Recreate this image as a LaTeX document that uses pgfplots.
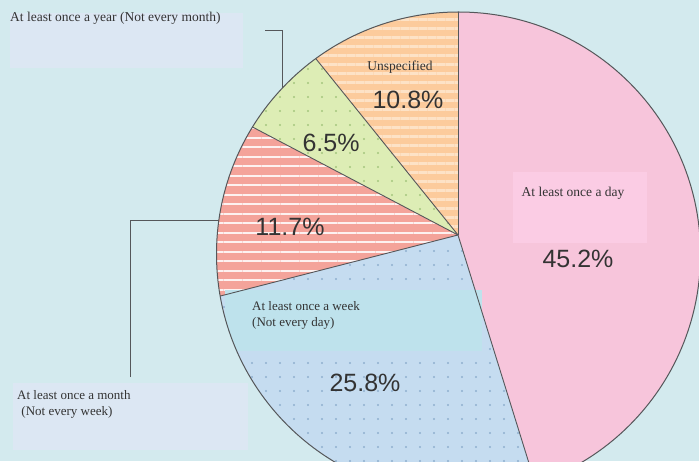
\documentclass[border=0pt]{standalone}
\usepackage{pgfplots}
\usepackage{pgfplotstable}
\pgfplotsset{compat=1.18}
\usetikzlibrary{patterns.meta}
\usepackage{fontspec}
\setmainfont{Liberation Serif}
\newfontfamily\pctfont{Liberation Sans}
\definecolor{bg}{HTML}{D3EAEE}
\definecolor{boxc}{HTML}{DCE7F3}
\definecolor{cday}{HTML}{F7C5DB}
\definecolor{cdaybox}{HTML}{FBCCE4}
\definecolor{cweek}{HTML}{C5DCF0}
\definecolor{cweekbox}{HTML}{BEE2EC}
\definecolor{cweekdot}{HTML}{8FAFCF}
\definecolor{cmonth}{HTML}{F4A39A}
\definecolor{cyear}{HTML}{DDEDB5}
\definecolor{cyeardot}{HTML}{A5C67E}
\definecolor{cuns}{HTML}{FCCB9C}
\definecolor{cunsline}{HTML}{FDE2C6}
\definecolor{edge}{HTML}{55575A}
\definecolor{txt}{HTML}{333333}

\pgfplotstableread{
label pct
day 45.2
week 25.8
month 11.7
year 6.5
unspecified 10.8
}\piedata

\tikzset{pct/.style={txt, font=\pctfont\fontsize{25}{28}\selectfont, inner sep=0pt}}

\begin{document}%
\begin{tikzpicture}
\pgfplotstablegetelem{0}{pct}\of\piedata\let\pA\pgfplotsretval
\pgfplotstablegetelem{1}{pct}\of\piedata\let\pB\pgfplotsretval
\pgfplotstablegetelem{2}{pct}\of\piedata\let\pC\pgfplotsretval
\pgfplotstablegetelem{3}{pct}\of\piedata\let\pD\pgfplotsretval
\pgfplotstablegetelem{4}{pct}\of\piedata\let\pE\pgfplotsretval
\pgfmathsetmacro\aA{90}
\pgfmathsetmacro\aB{\aA-3.6*\pA}
\pgfmathsetmacro\aC{\aB-3.6*\pB}
\pgfmathsetmacro\aD{\aC-3.6*\pC}
\pgfmathsetmacro\aE{\aD-3.6*\pD}
\pgfmathsetmacro\aF{\aE-3.6*\pE}
\begin{axis}[
  width=699pt, height=461pt, scale only axis,
  xmin=0, xmax=699, ymin=0, ymax=461,
  hide axis, clip=true,
]
\fill[bg] (axis cs:0,0) rectangle (axis cs:699,461);
% label boxes
\fill[boxc] (axis cs:10,393) rectangle (axis cs:243,448);
\fill[boxc] (axis cs:13,11) rectangle (axis cs:248,78);
% leader lines
\draw[edge, line width=0.8pt] (axis cs:265,431) -- (axis cs:282,431) -- (axis cs:282,361);
\draw[edge, line width=0.8pt] (axis cs:130,84) -- (axis cs:130,241) -- (axis cs:227,241);
% pie
\begin{scope}
\clip (axis cs:458.5,207) circle[radius=242pt];
\fill[cday] (axis cs:458,226) -- ++(\aA:420pt) arc[start angle=\aA, end angle=\aB, radius=420pt] -- cycle;
\fill[cweek] (axis cs:458,226) -- ++(\aB:420pt) arc[start angle=\aB, end angle=\aC, radius=420pt] -- cycle;
\fill[pattern={Dots[distance=14pt, radius=1.1pt]}, pattern color=cweekdot] (axis cs:458,226) -- ++(\aB:420pt) arc[start angle=\aB, end angle=\aC, radius=420pt] -- cycle;
\fill[cmonth] (axis cs:458,226) -- ++(\aC:420pt) arc[start angle=\aC, end angle=\aD, radius=420pt] -- cycle;
\fill[pattern={Lines[angle=0, distance=9.5pt, line width=2pt]}, pattern color=white!85!cmonth] (axis cs:458,226) -- ++(\aC:420pt) arc[start angle=\aC, end angle=\aD, radius=420pt] -- cycle;
\fill[cyear] (axis cs:458,226) -- ++(\aD:420pt) arc[start angle=\aD, end angle=\aE, radius=420pt] -- cycle;
\fill[pattern={Dots[distance=14pt, radius=1.1pt]}, pattern color=cyeardot] (axis cs:458,226) -- ++(\aD:420pt) arc[start angle=\aD, end angle=\aE, radius=420pt] -- cycle;
\fill[cuns] (axis cs:458,226) -- ++(\aE:420pt) arc[start angle=\aE, end angle=\aF, radius=420pt] -- cycle;
\fill[pattern={Lines[angle=0, distance=9pt, line width=3pt]}, pattern color=cunsline] (axis cs:458,226) -- ++(\aE:420pt) arc[start angle=\aE, end angle=\aF, radius=420pt] -- cycle;
% highlight boxes
\fill[cdaybox] (axis cs:513,218) rectangle (axis cs:647,289);
\fill[cweekbox] (axis cs:225,110) rectangle (axis cs:482,171);
% slice borders
\draw[edge, line width=0.9pt] (axis cs:458,226) -- ++(\aA:420pt);
\draw[edge, line width=0.9pt] (axis cs:458,226) -- ++(\aB:420pt);
\draw[edge, line width=0.9pt] (axis cs:458,226) -- ++(\aC:420pt);
\draw[edge, line width=0.9pt] (axis cs:458,226) -- ++(\aD:420pt);
\draw[edge, line width=0.9pt] (axis cs:458,226) -- ++(\aE:420pt);
\end{scope}
\draw[edge, line width=1pt] (axis cs:458.5,207) circle[radius=242pt];
% texts
\node[anchor=west, txt, font=\fontsize{13.5}{15}\selectfont, inner sep=0pt] at (axis cs:10,443) {At least once a year (Not every month)};
\node[txt, font=\fontsize{13.5}{15}\selectfont, inner sep=0pt] at (axis cs:400,394) {Unspecified};
\node[pct] at (axis cs:408,361) {10.8\%};
\node[pct] at (axis cs:331,318) {6.5\%};
\node[pct] at (axis cs:290,234) {11.7\%};
\node[txt, font=\fontsize{13.5}{15}\selectfont, inner sep=0pt] at (axis cs:573,268) {At least once a day};
\node[pct] at (axis cs:578,202) {45.2\%};
\node[anchor=west, txt, font=\fontsize{13}{15}\selectfont, inner sep=0pt] at (axis cs:252,155) {At least once a week};
\node[anchor=west, txt, font=\fontsize{13}{15}\selectfont, inner sep=0pt] at (axis cs:252,138) {(Not every day)};
\node[pct] at (axis cs:365,78) {25.8\%};
\node[anchor=west, txt, font=\fontsize{13}{15}\selectfont, inner sep=0pt] at (axis cs:17,66) {At least once a month};
\node[anchor=west, txt, font=\fontsize{13}{15}\selectfont, inner sep=0pt] at (axis cs:18,49) {\ (Not every week)};
\end{axis}
\pgfresetboundingbox
\path (current axis.south west) rectangle (current axis.north east);
\end{tikzpicture}%
\end{document}
